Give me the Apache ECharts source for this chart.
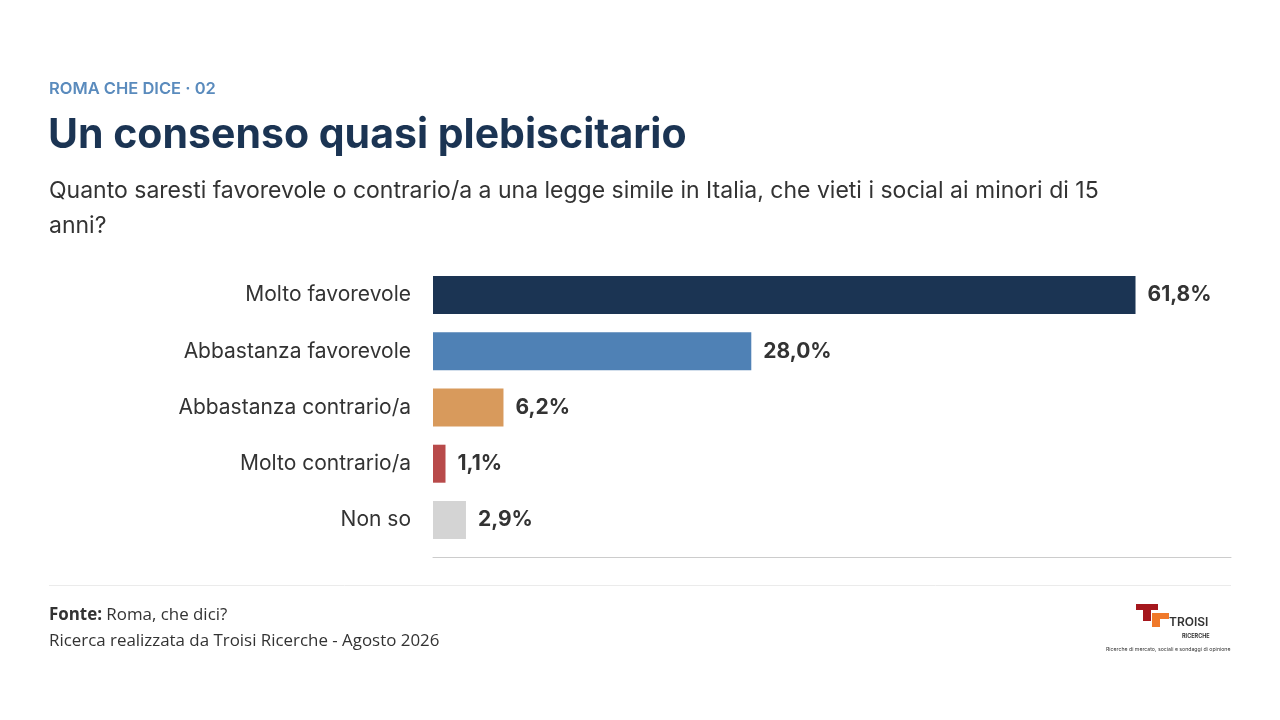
<!DOCTYPE html>
<html>
<head>
<meta charset="utf-8">
<script src="https://cdn.jsdelivr.net/npm/echarts@6/dist/echarts.min.js"></script>
<style>
  html, body { margin: 0; padding: 0; background: #ffffff; }
  #chart { width: 1280px; height: 720px; }
</style>
</head>
<body>
<div id="chart"></div>
<script>
// dati del sondaggio
var categories = ['Molto favorevole', 'Abbastanza favorevole', 'Abbastanza contrario/a', 'Molto contrario/a', 'Non so'];
var values = [61.8, 28.0, 6.2, 1.1, 2.9];
var barColors = ['#1b3453', '#4f81b5', '#d89a5c', '#b84a4a', '#d4d4d4'];

var chart = echarts.init(document.getElementById('chart'));

function fmt(v) {
    return v.toFixed(1).replace('.', ',') + '%';
}

var option = {
    backgroundColor: '#ffffff',
    animation: false,
    grid: {
        left: 433,
        right: 49,
        top: 267,
        bottom: 172
    },
    xAxis: {
        type: 'value',
        min: 0,
        max: 70.2,
        offset: 9,
        axisLine: { show: true, lineStyle: { color: '#cccccc', width: 1 } },
        axisTick: { show: false },
        axisLabel: { show: false },
        splitLine: { show: false }
    },
    yAxis: {
        type: 'category',
        inverse: true,
        data: categories,
        axisLine: { show: false },
        axisTick: { show: false },
        axisLabel: {
            margin: 22,
            color: '#333333',
            fontSize: 21,
            fontFamily: 'Inter'
        }
    },
    series: [{
        type: 'bar',
        barWidth: 38,
        data: values.map(function (v, i) {
            return { value: v, itemStyle: { color: barColors[i] } };
        }),
        label: {
            show: true,
            position: 'right',
            distance: 12,
            color: '#333333',
            fontSize: 21,
            fontWeight: 'bold',
            fontFamily: 'Inter',
            formatter: function (p) { return fmt(p.value); }
        }
    }],
    graphic: [
        // intestazione
        { type: 'text', left: 49, top: 81, style: { text: 'ROMA CHE DICE · 02', fill: '#5a8bbd', font: '600 16.5px Inter' } },
        { type: 'text', left: 48, top: 115, style: { text: 'Un consenso quasi plebiscitario', fill: '#1b3453', font: 'bold 41px Inter' } },
        { type: 'text', left: 49, top: 174, style: { text: 'Quanto saresti favorevole o contrario/a a una legge simile in Italia, che vieti i social ai minori di 15\nanni?', fill: '#333333', font: '23px Inter', lineHeight: 35 } },
        // separatore
        { type: 'line', shape: { x1: 49, y1: 585.5, x2: 1231, y2: 585.5 }, style: { stroke: '#ebebeb', lineWidth: 1 } },
        // fonte
        { type: 'text', left: 49, top: 607, style: { rich: { b: { font: 'bold 16.9px "Open Sans"', fill: '#333333' }, n: { font: '16.9px "Open Sans"', fill: '#333333' } }, text: '{b|Fonte:}{n| Roma, che dici?}' } },
        { type: 'text', left: 49, top: 633, style: { text: 'Ricerca realizzata da Troisi Ricerche - Agosto 2026', fill: '#333333', font: '16.9px "Open Sans"' } },
        // logo
        { type: 'rect', shape: { x: 1136, y: 604, width: 22, height: 6 }, style: { fill: '#a5171d' } },
        { type: 'rect', shape: { x: 1143, y: 610, width: 8, height: 11 }, style: { fill: '#a5171d' } },
        { type: 'rect', shape: { x: 1152, y: 613, width: 17, height: 6 }, style: { fill: '#f0792a' } },
        { type: 'rect', shape: { x: 1152, y: 619, width: 8, height: 8 }, style: { fill: '#f0792a' } },
        { type: 'text', left: 1169, top: 616, style: { text: 'TROISI', fill: '#333333', font: '600 12px Inter' } },
        { type: 'text', left: 1182, top: 633, style: { text: 'RICERCHE', fill: '#333333', font: 'bold 5.5px Inter' } },
        { type: 'text', left: 1106, top: 647, style: { text: 'Ricerche di mercato, sociali e sondaggi di opinione', fill: '#333333', font: '5.2px Inter' } }
    ]
};

chart.setOption(option);
</script>
</body>
</html>
